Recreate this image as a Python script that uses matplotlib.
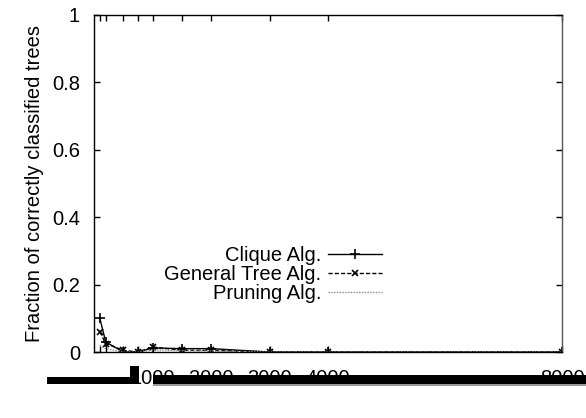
import numpy as np
import matplotlib
matplotlib.use("Agg")
import matplotlib.pyplot as plt
from matplotlib.patches import Rectangle

plt.rcParams['font.family'] = ['Liberation Sans', 'DejaVu Sans']

sizes = [100, 200, 500, 750, 1000, 1500, 2000, 3000, 4000, 8000]
clique = [0.10, 0.03, 0.0, 0.0, 0.012, 0.01, 0.01, 0.0, 0.0, 0.0]
general_tree = [0.06, 0.025, 0.005, 0.0, 0.015, 0.005, 0.005, 0.0, 0.0, 0.0]
pruning = [0.02, 0.01, 0.0, 0.0, 0.006, 0.004, 0.003, 0.0, 0.0, 0.0]

xtick_labels = ['', '', '', '', '1000', '', '2000', '3000', '4000', '8000']
yticks = [0, 0.2, 0.4, 0.6, 0.8, 1]
ytick_labels = ['0', '0.2', '0.4', '0.6', '0.8', '1']

W, H = 586, 418
fig = plt.figure(figsize=(W / 100, H / 100), dpi=100)
ax = fig.add_axes([94 / W, 1 - 352 / H, (562 - 94) / W, (352 - 15) / H])

ax.plot(sizes, clique, color='black', lw=1.0, marker='+', ms=7, mew=1.2,
        label='Clique Alg.')
ax.plot(sizes, general_tree, color='black', lw=1.0, ls=(0, (3, 1.5)),
        marker='x', ms=5, mew=1.2, label='General Tree Alg.')
ax.plot(sizes, pruning, color='#888888', lw=1.0, ls=(0, (1, 1)),
        label='Pruning Alg.')

ax.set_xlim(0, 8000)
ax.set_ylim(0, 1)
ax.set_xticks(sizes)
ax.set_xticklabels(xtick_labels)
ax.set_yticks(yticks)
ax.set_yticklabels(ytick_labels)
ax.tick_params(direction='in', top=True, right=True, length=4, width=1,
               labelsize=14.5)
ax.tick_params(axis='y', pad=10)
ax.tick_params(axis='x', pad=12)
ax.set_ylabel('Fraction of correctly classified trees', fontsize=14.5,
              labelpad=6)
for s in ax.spines.values():
    s.set_linewidth(1.0)
ax.spines['right'].set_color('#555555')

leg = ax.legend(loc='upper right', bbox_to_anchor=(392 / W, 1 - 236 / H),
                bbox_transform=fig.transFigure, frameon=False,
                markerfirst=False, fontsize=14.5, handlelength=2.7,
                handletextpad=0.3, labelspacing=0.0, borderpad=0)
for t in leg.get_texts():
    t.set_ha('right')


def px_rect(x0, y0, x1, y1, color='black'):
    # rectangle given in image pixels (origin top-left)
    fig.patches.append(Rectangle((x0 / W, 1 - y1 / H), (x1 - x0) / W,
                                 (y1 - y0) / H, transform=fig.transFigure,
                                 facecolor=color, edgecolor='none'))


# garbled x-axis label band seen in the source picture
px_rect(47, 377, 131, 384)
px_rect(130, 366, 139, 384)
px_rect(153, 375, 586, 384)
px_rect(153, 384, 586, 386, '#999999')

fig.savefig('out.png', dpi=100)
